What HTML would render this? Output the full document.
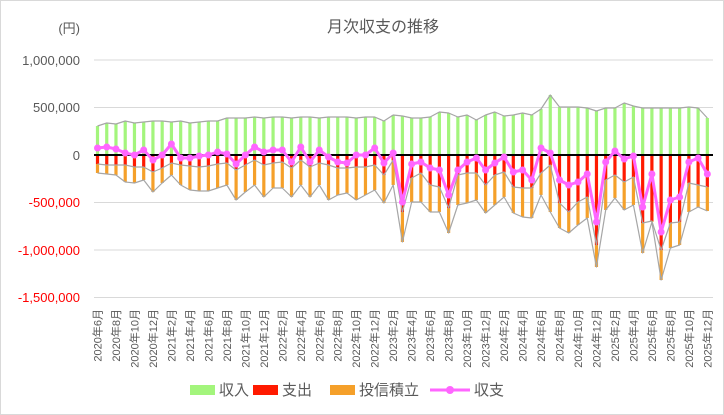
<!DOCTYPE html>
<html><head><meta charset="utf-8"><style>
html,body{margin:0;padding:0;background:#fff}
svg{display:block;font-family:"Liberation Sans","Noto Sans CJK JP",sans-serif}
</style></head><body>
<svg id="c" width="724" height="415" viewBox="0 0 724 415" xmlns="http://www.w3.org/2000/svg">
<rect x="0.5" y="0.5" width="723" height="414" fill="#fff" stroke="#d9d9d9"/>
<text x="383" y="32" font-size="16" fill="#595959" text-anchor="middle">月次収支の推移</text>
<text x="80" y="33" font-size="13" fill="#595959" text-anchor="end">(円)</text>
<g stroke="#d9d9d9" stroke-width="1">
<line x1="94" x2="713" y1="60" y2="60"/><line x1="94" x2="713" y1="107.5" y2="107.5"/>
<line x1="94" x2="713" y1="202.5" y2="202.5"/><line x1="94" x2="713" y1="250" y2="250"/>
<line x1="94" x2="713" y1="297.5" y2="297.5"/></g>
<g font-size="13" text-anchor="end">
<text x="80" y="65" fill="#595959">1,000,000</text>
<text x="80" y="112" fill="#595959">500,000</text>
<text x="80" y="160" fill="#595959">0</text>
<text x="80" y="207" fill="#ff0000">-500,000</text>
<text x="80" y="255" fill="#ff0000">-1,000,000</text>
<text x="80" y="302" fill="#ff0000">-1,500,000</text>
</g>
<g id="bars"></g>
<g id="lab" font-size="11" fill="#595959"></g>
<g font-size="15" fill="#595959">
<rect x="190" y="385" width="25" height="10" fill="#a3f57c"/><text x="219" y="395">収入</text>
<rect x="253" y="385" width="25" height="10" fill="#ff1a00"/><text x="282" y="395">支出</text>
<rect x="330" y="385" width="25" height="10" fill="#f5a02a"/><text x="359" y="395">投信積立</text>
<line x1="430" x2="470" y1="390" y2="390" stroke="#ff66ff" stroke-width="3"/><circle cx="450" cy="390" r="4" fill="#ff66ff"/><text x="474" y="395">収支</text>
</g>
</svg>
<script>
var inc=[126,123,124,121,123,122,121,121,122,121,123,122,121,121,118,118,118,
117,118,117,117,118,117,117,118,117,117,117,118,117,117,121,115,
116,118,118,117,112,113,117,115,120,115,112,116,115,113,115,109,95,
107,107,107,108,111,108,108,103,106,108,108,108,108,108,107,108,118];
var red=[164,165,165,165,167,167,172,168,163,165,166,167,166,164,163,170,165,
160,165,163,162,168,160,167,163,165,168,168,167,167,165,175,160,
212,178,173,185,187,208,175,173,173,185,175,172,187,188,188,173,165,
203,212,202,197,245,180,175,182,177,223,221,250,223,222,183,185,187];
var tot=[173,174,175,182,183,180,192,183,175,185,190,191,191,188,185,200,192,
185,197,188,188,197,185,197,185,200,195,193,200,195,190,203,185,
242,202,202,212,212,233,205,203,200,213,205,197,213,217,218,195,212,
228,233,225,218,267,210,198,210,205,253,222,280,248,245,212,207,211];
var bal=[148,147,149,153,155,150,160,155,144,158,158,156,155,152,154,164,155,
147,152,150,150,162,147,162,150,157,162,163,155,155,148,163,153,
202,164,162,168,170,195,170,162,158,170,163,157,172,170,180,148,153,
180,185,182,174,222,162,151,159,156,207,174,232,200,197,162,158,174];
var ns="http://www.w3.org/2000/svg",g=document.getElementById('bars'),L=document.getElementById('lab');
function el(t,a,p){var e=document.createElementNS(ns,t);for(var k in a)e.setAttribute(k,a[k]);(p||g).appendChild(e);return e;}
var X=function(i){return 97.5+9.24*i;},Z=155,w=3.2,s="";
for(var i=0;i<67;i++){var x=X(i)-w/2;
el('rect',{x:x,y:inc[i],width:w,height:Z-inc[i],fill:'#a3f57c'});
el('rect',{x:x,y:Z,width:w,height:red[i]-Z,fill:'#ff1a00'});
el('rect',{x:x,y:red[i],width:w,height:tot[i]-red[i],fill:'#f5a02a'});}
function pl(a,c,wd){var p=a.map(function(v,i){return X(i)+','+v}).join(' ');el('polyline',{points:p,fill:'none',stroke:c,'stroke-width':wd,'stroke-linejoin':'round'});}
pl(inc,'#a6a6a6',1.2);pl(red,'#a6a6a6',1.2);pl(tot,'#a6a6a6',1.2);
el('line',{x1:94,x2:713,y1:Z,y2:Z,stroke:'#000','stroke-width':2});
pl(bal,'#ff66ff',3);
for(var i=0;i<67;i++)el('circle',{cx:X(i),cy:bal[i],r:3.5,fill:'#ff66ff'});
var y=2020,m=6;
for(var i=0;i<67;i+=2){var t=el('text',{x:0,y:0,'text-anchor':'end',transform:'translate('+(X(i)+4)+',309) rotate(-90)'},L);t.textContent=y+'年'+m+'月';m+=2;if(m>12){m-=12;y++;}}
</script>
</body></html>
